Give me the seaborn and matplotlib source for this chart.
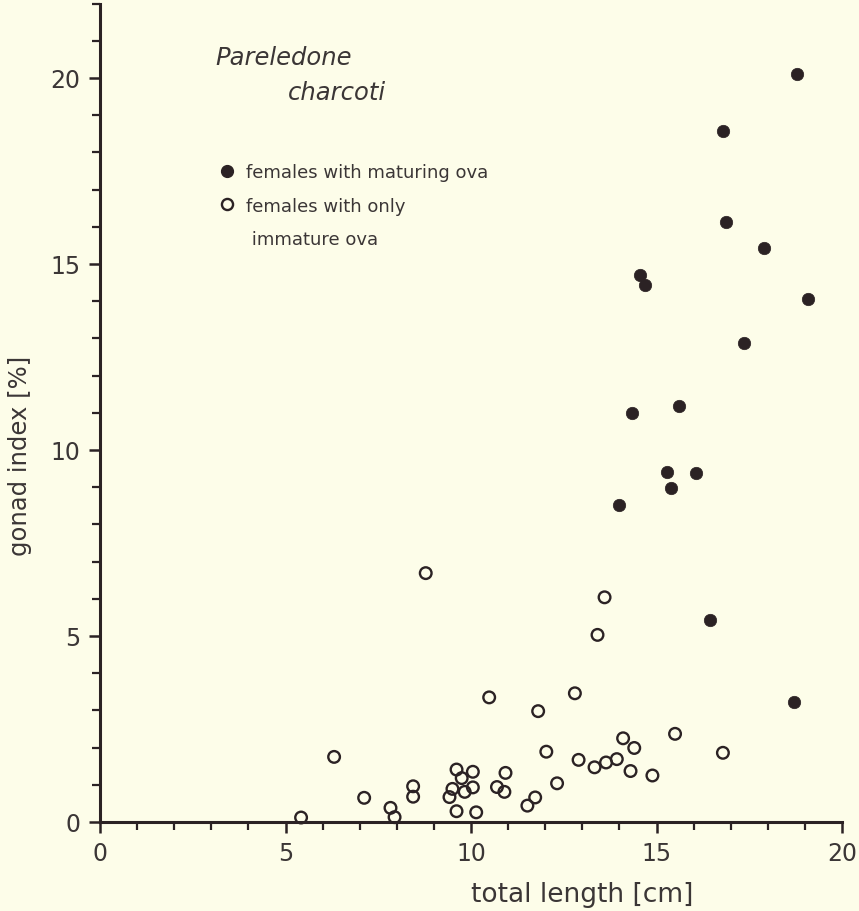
import matplotlib
matplotlib.use("Agg")
import matplotlib.pyplot as plt
from matplotlib.lines import Line2D
from matplotlib.ticker import MultipleLocator
import seaborn as sns
import pandas as pd

# ---- data ----
mature_length = [18.78, 16.78, 16.87, 17.90, 14.56, 14.70, 19.08, 17.36,
                 14.35, 15.61, 15.27, 16.06, 15.40, 13.98, 16.44, 18.71]
mature_gi = [20.12, 18.58, 16.12, 15.43, 14.70, 14.44, 14.06, 12.87,
             10.99, 11.19, 9.41, 9.38, 8.99, 8.52, 5.42, 3.23]

immature_length = [5.42, 6.31, 7.12, 7.83, 7.94, 8.44, 8.44, 8.78, 9.42, 9.50,
                   9.61, 9.61, 9.75, 9.83, 10.05, 10.05, 10.14, 10.49, 10.70, 10.90,
                   10.93, 11.52, 11.73, 11.81, 12.03, 12.32, 12.80, 12.90, 13.33, 13.41,
                   13.60, 13.64, 13.93, 14.10, 14.30, 14.40, 14.89, 15.50, 16.79]
immature_gi = [0.12, 1.75, 0.65, 0.38, 0.13, 0.96, 0.68, 6.69, 0.67, 0.89,
               1.41, 0.29, 1.18, 0.81, 1.35, 0.93, 0.26, 3.35, 0.94, 0.81,
               1.32, 0.44, 0.66, 2.98, 1.89, 1.04, 3.46, 1.67, 1.47, 5.03,
               6.04, 1.60, 1.69, 2.25, 1.37, 1.99, 1.25, 2.37, 1.86]

x_major_ticks = [0, 5, 10, 15, 20]
y_major_ticks = [0, 5, 10, 15, 20]
legend_labels = ["females with maturing ova", "females with only", " immature ova"]
title_lines = ["Pareledone", "charcoti"]

# ---- style ----
bg = "#fdfde9"
ink = "#2b2224"
txt = "#3b3636"

sns.set_theme(style="white")
plt.rcParams["font.family"] = ["DejaVu Sans"]

df_m = pd.DataFrame({"length": mature_length, "gi": mature_gi})
df_i = pd.DataFrame({"length": immature_length, "gi": immature_gi})

fig = plt.figure(figsize=(8.59, 9.12), dpi=100, facecolor=bg)
ax = fig.add_axes([100 / 859, 89 / 912, 742 / 859, 818.4 / 912])
ax.set_facecolor(bg)

sns.scatterplot(data=df_m, x="length", y="gi", ax=ax, s=80, color=ink,
                edgecolor=ink, linewidth=0.5, clip_on=False, zorder=3)
sns.scatterplot(data=df_i, x="length", y="gi", ax=ax, s=70, color=ink,
                linewidth=1.7, clip_on=False, zorder=3)
coll = ax.collections[-1]
coll.set_facecolor("none")
coll.set_edgecolor(ink)

ax.set_xlim(0, 20)
ax.set_ylim(0, 22)
ax.set_xticks(x_major_ticks)
ax.set_yticks(y_major_ticks)
ax.xaxis.set_minor_locator(MultipleLocator(1))
ax.yaxis.set_minor_locator(MultipleLocator(1))

for s in ["top", "right"]:
    ax.spines[s].set_visible(False)
for s in ["left", "bottom"]:
    ax.spines[s].set_color(ink)
    ax.spines[s].set_linewidth(2.2)

ax.tick_params(which="major", direction="out", length=8, width=1.8, color=ink,
               labelsize=17, labelcolor=txt, left=True, bottom=True)
ax.tick_params(which="minor", direction="out", length=6, width=1.6, color=ink,
               left=True, bottom=True)
ax.tick_params(axis="x", which="major", pad=6)
ax.tick_params(axis="y", which="major", pad=6)

ax.set_xlabel("total length [cm]", fontsize=19, color=txt)
ax.xaxis.set_label_coords(0.65, -0.072)
ax.set_ylabel("gonad index [%]", fontsize=17.5, color=txt)
ax.yaxis.set_label_coords(-0.092, 0.448)

ax.text(0.155, 0.926, title_lines[0], transform=ax.transAxes, fontsize=17.5,
        style="italic", color=txt, va="baseline", ha="left")
ax.text(0.253, 0.883, title_lines[1], transform=ax.transAxes, fontsize=17.5,
        style="italic", color=txt, va="baseline", ha="left")

handles = [
    Line2D([], [], ls="", marker="o", ms=8.5, color=ink, mec=ink),
    Line2D([], [], ls="", marker="o", ms=8.0, mfc="none", mec=ink, mew=1.7),
    Line2D([], [], ls="", marker=None),
]
leg = ax.legend(handles=handles, labels=legend_labels, loc="upper left",
                bbox_to_anchor=(0.159, 0.805), frameon=False, fontsize=13,
                handlelength=0.95, handletextpad=0.6, labelspacing=0.85,
                borderpad=0, borderaxespad=0)
for t in leg.get_texts():
    t.set_color(txt)

fig.savefig("out.png", dpi=100, facecolor=bg)
